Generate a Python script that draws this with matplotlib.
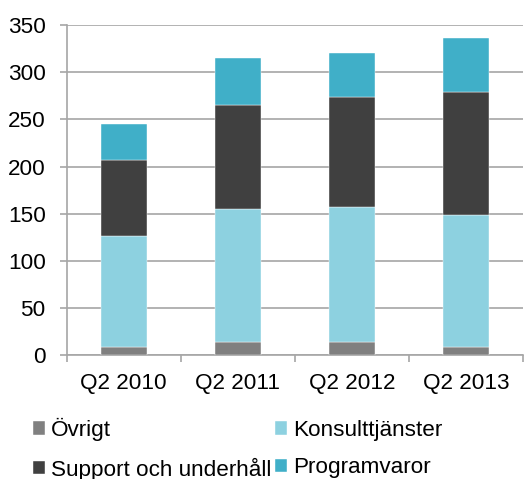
import matplotlib.pyplot as plt
import numpy as np

plt.rcParams['font.family'] = ['Liberation Sans', 'DejaVu Sans']

# Data (MSEK)
quarters = ["Q2 2010", "Q2 2011", "Q2 2012", "Q2 2013"]
ovrigt = [9, 14.5, 14, 9]
konsult = [117, 140.5, 143, 140]
support = [81, 110, 117, 130]
program = [38, 50, 46, 57]

series = [
    ("Övrigt", ovrigt, "#808080"),
    ("Konsulttjänster", konsult, "#8DD1E0"),
    ("Support och underhåll", support, "#404040"),
    ("Programvaror", program, "#40AFC8"),
]

fig = plt.figure(figsize=(5.32, 4.79), dpi=100)
ax = fig.add_axes([0.1253, 0.2582, 0.8577, 0.6896])

x = np.arange(len(quarters))
bottom = np.zeros(len(quarters))
handles = {}
for name, vals, col in series:
    b = ax.bar(x, vals, width=0.4, bottom=bottom, color=col, label=name,
               zorder=3, edgecolor="white", linewidth=0.3)
    handles[name] = b
    bottom += np.array(vals)

grid_col = "#a6a6a6"
fs = 16.2
ax.set_ylim(0, 350)
ax.set_xlim(-0.5, len(quarters) - 0.5)
ax.set_yticks(range(0, 351, 50))
ax.yaxis.grid(True, color=grid_col, linewidth=1.2, zorder=0)
ax.set_xticks(x)
ax.set_xticklabels(quarters)
ax.set_xticks(np.arange(-0.5, len(quarters), 1), minor=True)
ax.tick_params(axis="x", which="major", length=0, pad=13, labelsize=fs)
ax.tick_params(axis="x", which="minor", length=5, width=1.2, color=grid_col)
ax.tick_params(axis="y", length=5, width=1.2, color=grid_col, labelsize=fs, pad=10)

for s in ["top", "right"]:
    ax.spines[s].set_visible(False)
for s in ["left", "bottom"]:
    ax.spines[s].set_color(grid_col)
    ax.spines[s].set_linewidth(1.2)

order = ["Övrigt", "Support och underhåll", "Konsulttjänster", "Programvaror"]
fig.legend([handles[n] for n in order], order, ncol=2, frameon=False,
           loc="lower left", bbox_to_anchor=(0.045, -0.022), fontsize=fs,
           handlelength=0.55, handleheight=0.55, handletextpad=0.25,
           columnspacing=0.15, labelspacing=0.72, borderaxespad=0)

fig.savefig("out.png", dpi=100)
